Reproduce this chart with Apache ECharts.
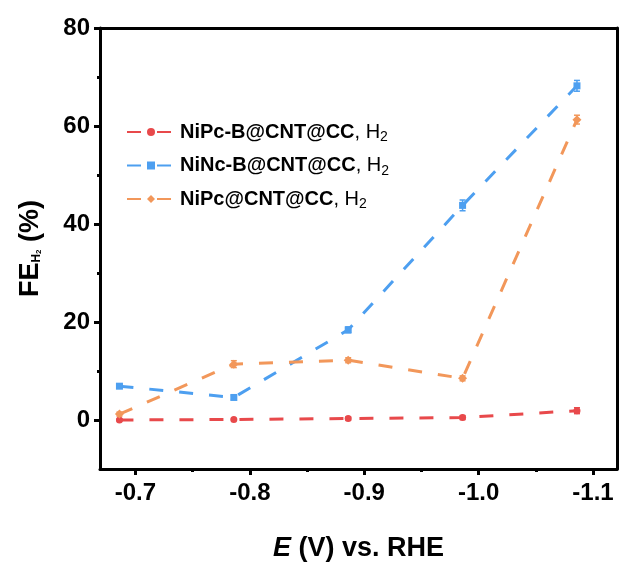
<!DOCTYPE html>
<html>
<head>
<meta charset="utf-8">
<script src="https://cdn.jsdelivr.net/npm/echarts@6/dist/echarts.min.js"></script>
<style>html,body{margin:0;padding:0;background:#fff}#c{width:619px;height:567px}</style>
</head>
<body>
<div id="c"></div>
<script>
// ---- data ----
const potentials = [-0.686, -0.786, -0.886, -0.986, -1.086];
const nipcB = [0.0, 0.1, 0.3, 0.5, 1.9];
const nipcBErr = [0.2, 0.2, 0.3, 0.4, 0.6];
const nincB = [6.9, 4.6, 18.4, 43.8, 68.2];
const nincBErr = [0.4, 0.4, 0.6, 1.1, 1.1];
const nipc = [1.2, 11.4, 12.2, 8.5, 61.3];
const nipcErr = [0.4, 0.7, 0.5, 0.5, 0.9];
const seriesNames = ['NiPc-B@CNT@CC', 'NiNc-B@CNT@CC', 'NiPc@CNT@CC'];
const colors = ['#e8494b', '#4d9ff0', '#f2975a'];
const xMajor = [-0.7, -0.8, -0.9, -1.0, -1.1];
const xMinor = [-0.75, -0.85, -0.95, -1.05];
const yMajor = [0, 20, 40, 60, 80];
const yMinor = [10, 30, 50, 70];

const FONT = 'Liberation Sans, Arial, sans-serif';
const chart = echarts.init(document.getElementById('c'));

function pairs(vals) { return potentials.map((x, i) => [x, vals[i]]); }
function errData(vals, errs) { return potentials.map((x, i) => [x, vals[i] - errs[i], vals[i] + errs[i]]); }

function errSeries(vals, errs, color) {
  return {
    type: 'custom', xAxisIndex: 0, yAxisIndex: 0, silent: true, z: 3,
    data: errData(vals, errs),
    renderItem: function (params, api) {
      const x = api.value(0);
      const p1 = api.coord([x, api.value(1)]);
      const p2 = api.coord([x, api.value(2)]);
      const s = { stroke: color, lineWidth: 1.5 };
      return { type: 'group', children: [
        { type: 'line', shape: { x1: p1[0], y1: p1[1], x2: p2[0], y2: p2[1] }, style: s },
        { type: 'line', shape: { x1: p1[0] - 3, y1: p1[1], x2: p1[0] + 3, y2: p1[1] }, style: s },
        { type: 'line', shape: { x1: p2[0] - 3, y1: p2[1], x2: p2[0] + 3, y2: p2[1] }, style: s }
      ]};
    }
  };
}

const symbols = ['circle', 'rect', 'diamond'];
const symSizes = [7, 7, 9];
const valsList = [nipcB, nincB, nipc];
const errList = [nipcBErr, nincBErr, nipcErr];

const series = [];
for (let i = 0; i < 3; i++) {
  series.push({
    name: seriesNames[i], type: 'line', xAxisIndex: 0, yAxisIndex: 0,
    data: pairs(valsList[i]),
    symbol: symbols[i], symbolSize: symSizes[i], z: 4,
    itemStyle: { color: colors[i] },
    lineStyle: { color: colors[i], width: 3, type: [14, 16] }
  });
}
for (let i = 0; i < 3; i++) series.push(errSeries(valsList[i], errList[i], colors[i]));

const axisLine = { show: true, onZero: false, lineStyle: { color: '#000', width: 3 } };
const noLine = { show: false, onZero: false };

const option = {
  animation: false,
  backgroundColor: '#fff',
  grid: { left: 100, right: 2, top: 28, bottom: 94, containLabel: false },
  legend: {
    orient: 'vertical', left: 121, top: 117, itemGap: 11,
    itemWidth: 48, itemHeight: 10,
    data: seriesNames,
    formatter: function (n) { return '{b|' + n + '}{n|, H}{s|2}'; },
    textStyle: {
      fontFamily: FONT, color: '#000',
      rich: {
        b: { fontFamily: FONT, fontWeight: 'bold', fontSize: 20, color: '#000' },
        n: { fontFamily: FONT, fontSize: 20, color: '#000' },
        s: { fontFamily: FONT, fontSize: 14, color: '#000', padding: [11, 0, 0, 0] }
      }
    }
  },
  xAxis: [
    {
      type: 'value', position: 'bottom', inverse: true, min: -1.121, max: -0.669,
      axisLine: axisLine,
      splitLine: { show: false },
      axisTick: { show: true, customValues: xMajor, length: 6, lineStyle: { color: '#000', width: 3 } },
      axisLabel: { customValues: xMajor, formatter: v => v.toFixed(1), fontFamily: FONT, fontWeight: 'bold', fontSize: 24, color: '#000', margin: 12 },
      name: '{i|E}{r| (V) vs. RHE}', nameLocation: 'middle', nameGap: 66,
      nameTextStyle: { rich: {
        i: { fontFamily: FONT, fontWeight: 'bold', fontStyle: 'italic', fontSize: 27, color: '#000' },
        r: { fontFamily: FONT, fontWeight: 'bold', fontSize: 27, color: '#000' }
      } }
    },
    {
      type: 'value', position: 'bottom', inverse: true, min: -1.121, max: -0.669,
      axisLine: noLine, splitLine: { show: false },
      axisTick: { show: true, customValues: xMinor, length: 3, lineStyle: { color: '#000', width: 3 } },
      axisLabel: { show: false }
    },
    {
      type: 'value', position: 'top', inverse: true, min: -1.121, max: -0.669,
      axisLine: axisLine, splitLine: { show: false }, axisTick: { show: false }, axisLabel: { show: false }
    }
  ],
  yAxis: [
    {
      type: 'value', position: 'left', min: -10, max: 80,
      axisLine: axisLine, splitLine: { show: false },
      axisTick: { show: true, customValues: yMajor, length: 6, lineStyle: { color: '#000', width: 3 } },
      axisLabel: { customValues: yMajor, fontFamily: FONT, fontWeight: 'bold', fontSize: 24, color: '#000', margin: 10 },
      name: '{a|FE}{s|H}{t|2}{a| (%)}', nameLocation: 'middle', nameGap: 56, nameRotate: 90,
      nameTextStyle: { rich: {
        a: { fontFamily: FONT, fontWeight: 'bold', fontSize: 27, color: '#000' },
        s: { fontFamily: FONT, fontWeight: 'bold', fontSize: 12, color: '#000', padding: [12, 0, 0, 0] },
        t: { fontFamily: FONT, fontWeight: 'bold', fontSize: 8, color: '#000', padding: [16, 0, 0, 0] }
      } }
    },
    {
      type: 'value', position: 'left', min: -10, max: 80,
      axisLine: noLine, splitLine: { show: false },
      axisTick: { show: true, customValues: yMinor, length: 3, lineStyle: { color: '#000', width: 3 } },
      axisLabel: { show: false }
    },
    {
      type: 'value', position: 'right', min: -10, max: 80,
      axisLine: axisLine, splitLine: { show: false }, axisTick: { show: false }, axisLabel: { show: false }
    }
  ],
  series: series
};
chart.setOption(option);
</script>
</body>
</html>
